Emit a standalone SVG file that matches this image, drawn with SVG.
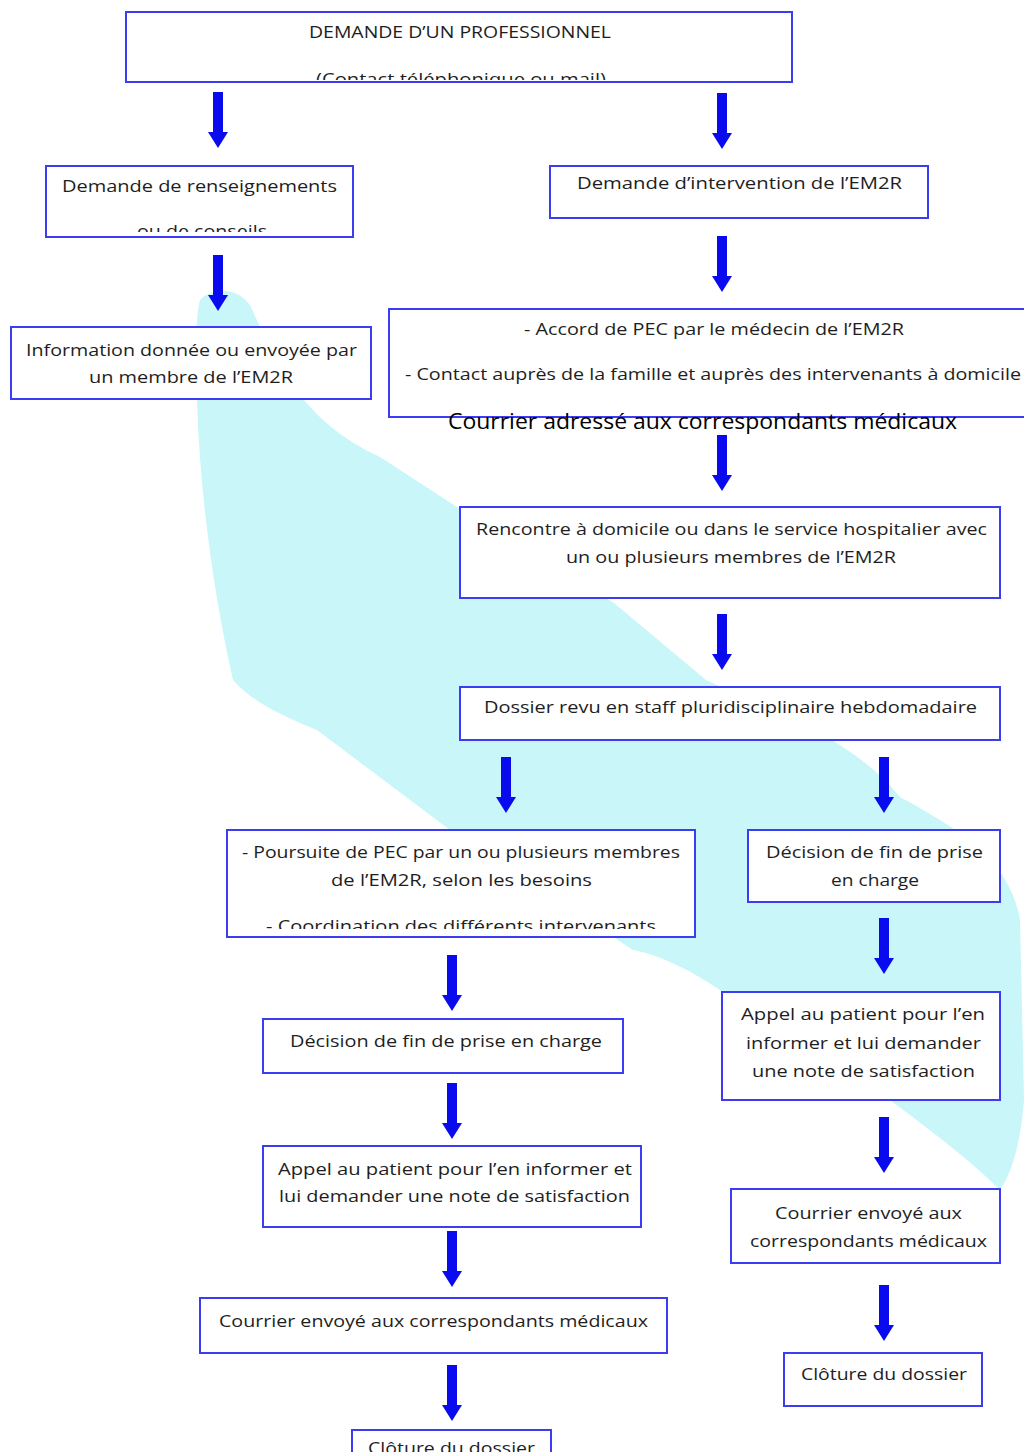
<svg xmlns="http://www.w3.org/2000/svg" width="1024" height="1452" viewBox="0 0 1024 1452">
<style>
.box{fill:#ffffff;stroke:#3c3cf2;stroke-width:2}
.t{font-family:"Open Sans","Liberation Sans",sans-serif;font-size:17px;fill:#1e1e1e}
.big{font-family:"Open Sans","Liberation Sans",sans-serif;font-size:22px;fill:#000000}
.arr{fill:#0a0aee}
</style>
<defs>
<path id="arrow" d="M -5,0 H 5 V 40 H 10 L 0,56 L -10,40 H -5 Z"/>
<clipPath id="c1"><rect x="126" y="12" width="666" height="68"/></clipPath>
<clipPath id="c2"><rect x="46" y="166" width="307" height="66"/></clipPath>
<clipPath id="c3"><rect x="227" y="830" width="468" height="99"/></clipPath>
</defs>
<rect x="0" y="0" width="1024" height="1452" fill="#ffffff"/>
<path id="band" fill="#c8f6f9" d="M 200,300 C 212,288 235,286 250,305 C 275,360 300,420 380,457 L 457,507 L 614,603 L 706,680 C 760,705 850,735 900,797 C 960,830 1010,860 1020,920 L 1024,1100 C 1020,1150 1010,1175 1000,1190 C 970,1160 930,1130 890,1100 L 720,990 C 690,970 660,955 633,950 L 450,830 L 317,730 C 280,715 250,700 233,680 C 215,600 200,500 197,400 C 196,350 195,320 200,300 Z"/>
<g id="connectors">
<use href="#arrow" class="arr" x="218" y="92"/>
<use href="#arrow" class="arr" x="722" y="93"/>
<use href="#arrow" class="arr" x="218" y="255"/>
<use href="#arrow" class="arr" x="722" y="236"/>
<use href="#arrow" class="arr" x="722" y="435"/>
<use href="#arrow" class="arr" x="722" y="614"/>
<use href="#arrow" class="arr" x="506" y="757"/>
<use href="#arrow" class="arr" x="884" y="757"/>
<use href="#arrow" class="arr" x="452" y="955"/>
<use href="#arrow" class="arr" x="884" y="918"/>
<use href="#arrow" class="arr" x="452" y="1083"/>
<use href="#arrow" class="arr" x="884" y="1117"/>
<use href="#arrow" class="arr" x="452" y="1231"/>
<use href="#arrow" class="arr" x="884" y="1285"/>
<use href="#arrow" class="arr" x="452" y="1365"/>
</g>
<g id="n-demande">
<rect class="box" x="126" y="12" width="666" height="70"/>
<text class="t" x="309" y="38" textLength="302" lengthAdjust="spacingAndGlyphs">DEMANDE D’UN PROFESSIONNEL</text>
<text class="t" x="316" y="85" textLength="290" lengthAdjust="spacingAndGlyphs" clip-path="url(#c1)">(Contact téléphonique ou mail)</text>
</g>
<g id="n-renseignements">
<rect class="box" x="46" y="166" width="307" height="71"/>
<text class="t" x="62" y="192" textLength="275" lengthAdjust="spacingAndGlyphs">Demande de renseignements</text>
<text class="t" x="137" y="237" textLength="130" lengthAdjust="spacingAndGlyphs" clip-path="url(#c2)">ou de conseils</text>
</g>
<g id="n-intervention">
<rect class="box" x="550" y="166" width="378" height="52"/>
<text class="t" x="577" y="189" textLength="325" lengthAdjust="spacingAndGlyphs">Demande d’intervention de l’EM2R</text>
</g>
<g id="n-information">
<rect class="box" x="11" y="327" width="360" height="72"/>
<text class="t" x="26" y="356" textLength="331" lengthAdjust="spacingAndGlyphs">Information donnée ou envoyée par</text>
<text class="t" x="89" y="383" textLength="204" lengthAdjust="spacingAndGlyphs">un membre de l’EM2R</text>
</g>
<g id="n-accord">
<rect class="box" x="389" y="309" width="645" height="108"/>
<text class="t" x="524" y="335" textLength="380" lengthAdjust="spacingAndGlyphs">- Accord de PEC par le médecin de l’EM2R</text>
<text class="t" x="405" y="380" textLength="616" lengthAdjust="spacingAndGlyphs">- Contact auprès de la famille et auprès des intervenants à domicile</text>
</g>
<g id="n-courrier-adresse">
<text class="big" x="448" y="429" textLength="509" lengthAdjust="spacingAndGlyphs">Courrier adressé aux correspondants médicaux</text>
</g>
<g id="n-rencontre">
<rect class="box" x="460" y="507" width="540" height="91"/>
<text class="t" x="476" y="535" textLength="511" lengthAdjust="spacingAndGlyphs">Rencontre à domicile ou dans le service hospitalier avec</text>
<text class="t" x="566" y="563" textLength="330" lengthAdjust="spacingAndGlyphs">un ou plusieurs membres de l’EM2R</text>
</g>
<g id="n-dossier">
<rect class="box" x="460" y="687" width="540" height="53"/>
<text class="t" x="484" y="713" textLength="493" lengthAdjust="spacingAndGlyphs">Dossier revu en staff pluridisciplinaire hebdomadaire</text>
</g>
<g id="n-poursuite">
<rect class="box" x="227" y="830" width="468" height="107"/>
<text class="t" x="242" y="858" textLength="438" lengthAdjust="spacingAndGlyphs">- Poursuite de PEC par un ou plusieurs membres</text>
<text class="t" x="331" y="886" textLength="261" lengthAdjust="spacingAndGlyphs">de l’EM2R, selon les besoins</text>
<text class="t" x="266" y="932" textLength="390" lengthAdjust="spacingAndGlyphs" clip-path="url(#c3)">- Coordination des différents intervenants</text>
</g>
<g id="n-decision-droite">
<rect class="box" x="748" y="830" width="252" height="72"/>
<text class="t" x="766" y="858" textLength="217" lengthAdjust="spacingAndGlyphs">Décision de fin de prise</text>
<text class="t" x="831" y="886" textLength="88" lengthAdjust="spacingAndGlyphs">en charge</text>
</g>
<g id="n-decision-gauche">
<rect class="box" x="263" y="1019" width="360" height="54"/>
<text class="t" x="290" y="1047" textLength="312" lengthAdjust="spacingAndGlyphs">Décision de fin de prise en charge</text>
</g>
<g id="n-appel-droite">
<rect class="box" x="722" y="992" width="278" height="108"/>
<text class="t" x="741" y="1020" textLength="244" lengthAdjust="spacingAndGlyphs">Appel au patient pour l’en</text>
<text class="t" x="746" y="1049" textLength="235" lengthAdjust="spacingAndGlyphs">informer et lui demander</text>
<text class="t" x="752" y="1077" textLength="223" lengthAdjust="spacingAndGlyphs">une note de satisfaction</text>
</g>
<g id="n-appel-gauche">
<rect class="box" x="263" y="1146" width="378" height="81"/>
<text class="t" x="278" y="1175" textLength="354" lengthAdjust="spacingAndGlyphs">Appel au patient pour l’en informer et</text>
<text class="t" x="279" y="1202" textLength="351" lengthAdjust="spacingAndGlyphs">lui demander une note de satisfaction</text>
</g>
<g id="n-courrier-droite">
<rect class="box" x="731" y="1189" width="269" height="74"/>
<text class="t" x="775" y="1219" textLength="187" lengthAdjust="spacingAndGlyphs">Courrier envoyé aux</text>
<text class="t" x="750" y="1247" textLength="237" lengthAdjust="spacingAndGlyphs">correspondants médicaux</text>
</g>
<g id="n-courrier-gauche">
<rect class="box" x="200" y="1298" width="467" height="55"/>
<text class="t" x="219" y="1327" textLength="429" lengthAdjust="spacingAndGlyphs">Courrier envoyé aux correspondants médicaux</text>
</g>
<g id="n-cloture-droite">
<rect class="box" x="784" y="1353" width="198" height="53"/>
<text class="t" x="801" y="1380" textLength="166" lengthAdjust="spacingAndGlyphs">Clôture du dossier</text>
</g>
<g id="n-cloture-gauche">
<rect class="box" x="352" y="1430" width="199" height="40"/>
<text class="t" x="368" y="1454" textLength="167" lengthAdjust="spacingAndGlyphs">Clôture du dossier</text>
</g>
</svg>
